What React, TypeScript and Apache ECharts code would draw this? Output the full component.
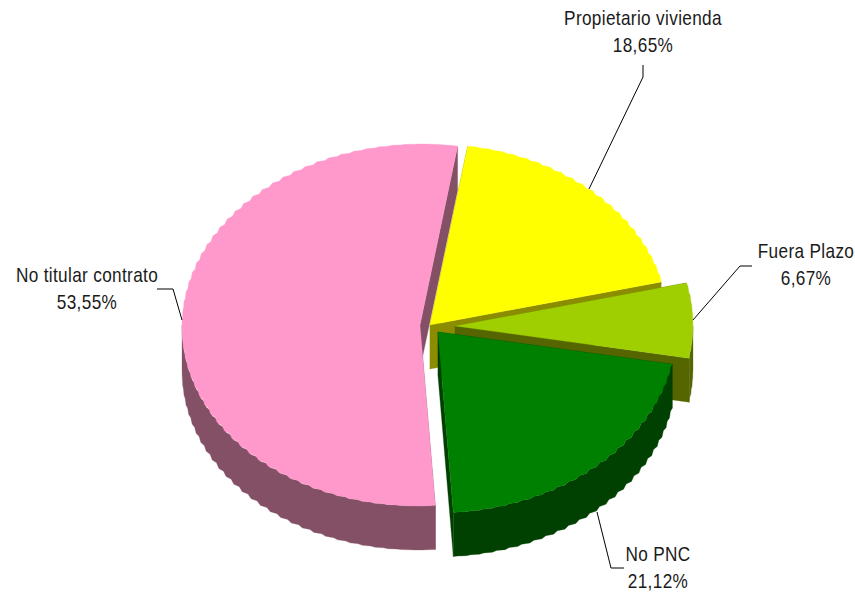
import React, { useEffect, useRef } from "react";
import * as echarts from "echarts";

const categories = ["No titular contrato", "Propietario vivienda", "Fuera Plazo", "No PNC"];
const shares = [53.55, 18.65, 6.67, 21.12];

const topColors = ["#FF99CC", "#FFFF00", "#9FCF00", "#008000"];
const wallColors = ["#845066", "#8C8C00", "#556600", "#004000"];
const apexes = [[420, 325], [430, 325], [455, 326], [438, 332]];
const leaderLines = [
  [[157, 289], [173, 289], [182, 320]],
  [[643, 65], [643, 77], [589, 189]],
  [[752, 266], [740, 266], [693, 320]],
  [[597, 512], [611, 568], [624, 568]],
];
const labelCentres = [[87, 289], [643, 32], [806, 265], [658, 567.5]];

const RX = 238;
const RY = 181;
const DEPTH = 44;
const START = 176.3;
const STEP = 3.2;
const FONT = "'Liberation Sans', Arial, sans-serif";

const rad = (d: number) => (d * Math.PI) / 180;
const onRim = (c: number[], a: number, dy = 0) => [
  c[0] + RX * Math.sin(rad(a)),
  c[1] - RY * Math.cos(rad(a)) + dy,
];

function rim(c: number[], a0: number, a1: number, dy = 0) {
  const pts: number[][] = [];
  const n = Math.max(1, Math.ceil((a1 - a0) / STEP));
  let prev: number[] | null = null;
  for (let i = 0; i <= n; i++) {
    const p = onRim(c, a0 + ((a1 - a0) * i) / n, dy);
    if (prev) pts.push([(p[0] * 2 + prev[0]) / 3, (prev[1] * 2 + p[1]) / 3]);
    pts.push(p);
    prev = p;
  }
  return pts;
}

function renderSlice(params: any, api: any) {
  const i = params.dataIndex;
  const total = shares.reduce((s, v) => s + v, 0);
  const before = shares.slice(0, i).reduce((s, v) => s + v, 0);
  const a0 = START + (before / total) * 360;
  const a1 = a0 + (api.value(0) / total) * 360;
  const c = apexes[i];
  const wall = wallColors[i];
  const poly = (points: number[][], fill: string) => ({
    type: "polygon",
    shape: { points },
    style: { fill, stroke: fill, lineWidth: 0.3 },
  });
  const children: any[] = [];
  for (const a of [a0, a1]) {
    const p = onRim(c, a);
    children.push(poly([c, p, [p[0], p[1] + DEPTH], [c[0], c[1] + DEPTH]], wall));
  }
  // the rim faces the viewer only between 90 and 270 degrees
  const s = a0 % 360;
  const e = s + (a1 - a0);
  const f0 = Math.max(s, 90);
  const f1 = Math.min(e, 270);
  if (f1 > f0) {
    children.push(poly([...rim(c, f0, f1), ...rim(c, f0, f1, DEPTH).reverse()], wall));
  }
  children.push(poly([c, ...rim(c, a0, a1)], topColors[i]));
  children.push({
    type: "polyline",
    shape: { points: leaderLines[i] },
    style: { stroke: "#000000", lineWidth: 1, fill: "none" },
  });
  const pct = api.value(0).toFixed(2).replace(".", ",") + "%";
  children.push({
    type: "text",
    x: labelCentres[i][0],
    y: labelCentres[i][1],
    scaleX: 0.86,
    style: {
      text: categories[i] + "\n" + pct,
      fill: "#1a1a1a",
      font: "20px " + FONT,
      lineHeight: 27,
      align: "center",
      verticalAlign: "middle",
    },
  });
  return { type: "group", children };
}

export default function App() {
  const ref = useRef<HTMLDivElement>(null);
  useEffect(() => {
    const chart = echarts.init(ref.current!, undefined, { renderer: "svg" });
    chart.setOption({
      animation: false,
      backgroundColor: "#FFFFFF",
      series: [
        {
          type: "custom",
          coordinateSystem: "none",
          silent: true,
          renderItem: renderSlice,
          data: shares.map((v, i) => ({ name: categories[i], value: [v] })),
        },
      ],
    });
    return () => chart.dispose();
  }, []);
  return (
    <>
      <style>{"svg text { letter-spacing: 0.4px; }"}</style>
      <div
        ref={ref}
        style={{ position: "fixed", left: 0, top: 0, width: 855, height: 592 }}
      />
    </>
  );
}
